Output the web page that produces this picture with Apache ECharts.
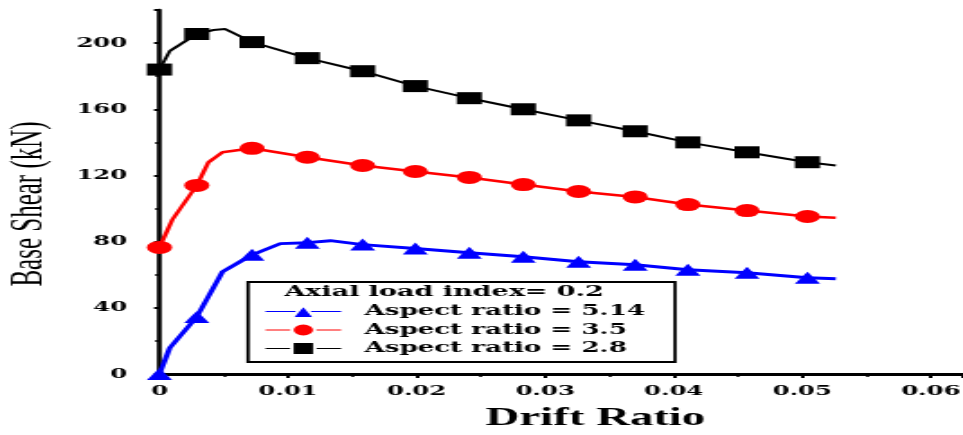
<!DOCTYPE html>
<html>
<head>
<meta charset="utf-8">
<script src="https://cdn.jsdelivr.net/npm/echarts@6/dist/echarts.min.js"></script>
<style>
  html, body { margin: 0; padding: 0; overflow: hidden; background: #fff; }
  /* the source figure is stretched sideways, so draw narrow and widen it */
  #main { width: 535px; height: 435px; transform: scaleX(1.8); transform-origin: 0 0; }
</style>
</head>
<body>
<div id="main"></div>
<script>
// drift ratios where the markers sit (same for all three curves)
const markerDrift = [0, 0.0029, 0.0072, 0.0115, 0.0158, 0.0199, 0.0241, 0.0283, 0.0326, 0.0370, 0.0411, 0.0457, 0.0504];

// base shear (kN) at each marker
const shear514 = [0, 34.5, 72, 79.4, 78.2, 75.8, 73.3, 70.9, 67.9, 66, 63, 61.2, 58.2];
const shear35 = [76.5, 114, 136.4, 131, 126, 122.4, 118.8, 114.5, 110.3, 107, 102.4, 98.8, 95.2];
const shear28 = [184, 205.5, 200.6, 190.9, 183, 174, 166.7, 160, 153.3, 146.7, 140, 134, 128];

// curve points drawn without a marker: [drift, shear]
const extra514 = [[0.0008, 15.8], [0.0049, 61.8], [0.0094, 78.8], [0.0133, 80.6], [0.0526, 57.6]];
const extra35 = [[0.001, 93.3], [0.0038, 127.9], [0.0049, 134], [0.0526, 94.5]];
const extra28 = [[0.0008, 195.2], [0.0042, 207.9], [0.0051, 208.5], [0.0526, 126]];

const seriesNames = ['Aspect ratio = 5.14', 'Aspect ratio = 3.5', 'Aspect ratio = 2.8'];
const legendTitle = 'Axial load index= 0.2';

function buildCurve(shear, extra) {
  const pts = markerDrift.map((d, i) => ({ value: [d, shear[i]] }));
  extra.forEach(p => pts.push({ value: p, symbol: 'none' }));
  pts.sort((a, b) => a.value[0] - b.value[0]);
  return pts;
}

const chartDom = document.getElementById('main');
const myChart = echarts.init(chartDom);

const tickFont = {
  color: '#000',
  fontFamily: 'DejaVu Serif',
  fontWeight: 'bold',
  fontSize: 13.5
};

const option = {
  animation: false,
  backgroundColor: '#fff',
  grid: {
    left: 88.6,
    right: 0,
    top: 10,
    bottom: 61,
    outerBoundsMode: 'none'
  },
  xAxis: {
    type: 'value',
    min: 0,
    max: 0.0625,
    interval: 0.01,
    name: 'Drift Ratio',
    nameLocation: 'middle',
    nameGap: 31,
    nameTextStyle: {
      color: '#000',
      fontFamily: 'Liberation Serif',
      fontWeight: 'bold',
      fontSize: 26,
      padding: [0, 0, 0, 38]
    },
    axisLine: { lineStyle: { color: '#000', width: 3 } },
    axisTick: { length: 4, lineStyle: { color: '#000', width: 2 } },
    minorTick: { show: true, splitNumber: 2, length: 3, lineStyle: { color: '#000', width: 1.5 } },
    axisLabel: Object.assign({ margin: 10, showMaxLabel: false }, tickFont),
    splitLine: { show: false }
  },
  yAxis: {
    type: 'value',
    min: 0,
    max: 220,
    interval: 40,
    name: 'Base Shear (kN)',
    nameLocation: 'middle',
    nameGap: 60,
    nameTextStyle: {
      color: '#000',
      fontFamily: 'Liberation Serif',
      fontSize: 25,
      padding: [0, 24, 0, 0]
    },
    axisLine: { lineStyle: { color: '#000', width: 2.6 } },
    axisTick: { length: 3, lineStyle: { color: '#000', width: 2 } },
    minorTick: { show: true, splitNumber: 2, length: 2.5, lineStyle: { color: '#000', width: 1.5 } },
    axisLabel: Object.assign({ margin: 18, showMaxLabel: false }, tickFont),
    splitLine: { show: false }
  },
  legend: {
    orient: 'vertical',
    left: 147,
    top: 304,
    padding: 0,
    itemWidth: 42,
    itemHeight: 16,
    itemGap: 3.5,
    data: seriesNames,
    lineStyle: { width: 1 },
    itemStyle: { borderColor: '#fff', borderWidth: 2 },
    textStyle: {
      color: '#000',
      fontFamily: 'DejaVu Serif',
      fontWeight: 'bold',
      fontSize: 14.5,
      lineHeight: 14.5,
      padding: [0, 0, 0, 8]
    }
  },
  graphic: [
    {
      type: 'rect',
      z: 0,
      shape: { x: 137.8, y: 282, width: 237.2, height: 80 },
      style: { fill: '#fff', stroke: '#000', lineWidth: 1.8 }
    },
    {
      type: 'text',
      x: 246.7,
      y: 292,
      style: {
        text: legendTitle,
        align: 'center',
        verticalAlign: 'middle',
        fill: '#000',
        font: 'bold 15px "DejaVu Serif"'
      }
    }
  ],
  series: [
    {
      name: seriesNames[0],
      type: 'line',
      data: buildCurve(shear514, extra514),
      symbol: 'triangle',
      symbolSize: [14, 12],
      itemStyle: { color: '#0000ff' },
      lineStyle: { color: '#0000ff', width: 3 }
    },
    {
      name: seriesNames[1],
      type: 'line',
      data: buildCurve(shear35, extra35),
      symbol: 'circle',
      symbolSize: [14, 13],
      itemStyle: { color: '#ff0000' },
      lineStyle: { color: '#ff0000', width: 2.5 }
    },
    {
      name: seriesNames[2],
      type: 'line',
      data: buildCurve(shear28, extra28),
      symbol: 'rect',
      symbolSize: [14, 12],
      itemStyle: { color: '#000' },
      lineStyle: { color: '#000', width: 2 }
    }
  ]
};

myChart.setOption(option);
</script>
</body>
</html>
